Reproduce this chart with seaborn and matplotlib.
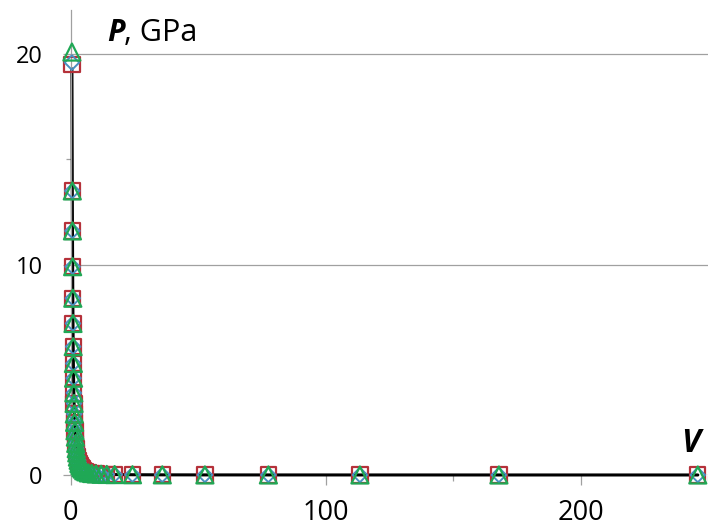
import numpy as np
import pandas as pd
import matplotlib
matplotlib.use('Agg')
import matplotlib.pyplot as plt
import seaborn as sns

# volume (shared) and pressure values for three model curves
V = [0.55, 0.70, 0.76, 0.83, 0.90, 0.97, 1.05, 1.12, 1.20, 1.30, 1.40, 1.50,
     1.60, 1.75, 1.90, 2.05, 2.25, 2.45, 2.70, 3.00, 3.30, 3.70, 4.10, 4.60,
     5.20, 6.00, 7.00, 8.30, 10.0, 12.0, 14.2, 17.3, 24.3, 36.0, 52.7, 77.6,
     113.5, 168.0, 246.0]
P_base = [19.3, 13.5, 11.6, 9.9, 8.4, 7.2, 6.1, 5.3, 4.6, 3.9, 3.4, 2.9,
          2.5, 2.1, 1.8, 1.5, 1.25, 1.05, 0.85, 0.70, 0.55, 0.45, 0.35, 0.28,
          0.20, 0.15, 0.10, 0.07, 0.05, 0.035, 0.026, 0.020, 0.012, 0.007,
          0.004, 0.0025, 0.0015, 0.0009, 0.0005]
P_sq = [19.5] + P_base[1:]
P_dia = [19.6] + P_base[1:]
P_tri = [20.1] + P_base[1:]

df = pd.DataFrame({'V': V, 'P': P_base, 'P_sq': P_sq, 'P_dia': P_dia, 'P_tri': P_tri})

sns.set_style('white')
plt.rcParams['font.family'] = ['Open Sans', 'DejaVu Sans']
plt.rcParams['text.color'] = 'black'

fig = plt.figure(figsize=(7.08, 5.30), dpi=100)
ax = fig.add_axes([0.0996, 0.1038, 0.9004, 0.8774])

sns.lineplot(data=df, x='V', y='P', color='black', linewidth=2.2, ax=ax,
             sort=False, clip_on=False, zorder=2)
sns.scatterplot(data=df, x='V', y='P_sq', marker='s', s=120, facecolor='none',
                edgecolor='#B5313A', linewidth=1.6, ax=ax, clip_on=False, zorder=3)
sns.scatterplot(data=df, x='V', y='P_dia', marker='D', s=55, facecolor='none',
                edgecolor='#4A8FC0', linewidth=1.4, ax=ax, clip_on=False, zorder=4)
sns.scatterplot(data=df, x='V', y='P_tri', marker='^', s=150, facecolor='none',
                edgecolor='#1FA855', linewidth=1.6, ax=ax, clip_on=False, zorder=5)

ax.set_xlim(0, 248)
ax.set_ylim(0, 22.1)
ax.set_xticks([0, 100, 200])
ax.set_xticks([50, 150, 250], minor=True)
ax.set_yticks([0, 10, 20])
ax.set_yticks([5, 15], minor=True)
ax.grid(axis='y', which='major', color='#a0a0a0', linewidth=0.9)
for s in ['top', 'right', 'bottom']:
    ax.spines[s].set_visible(False)
ax.spines['left'].set_color('#a0a0a0')
ax.spines['left'].set_linewidth(0.9)
ax.tick_params(axis='both', which='major', colors='#a0a0a0',
               labelcolor='black', direction='out', width=0.9)
ax.tick_params(axis='x', which='major', length=7.2, pad=10, labelsize=19.5, bottom=True)
ax.tick_params(axis='y', which='major', length=5.8, pad=14.4, labelsize=17, left=True)
ax.tick_params(axis='x', which='minor', length=4.3, bottom=True, colors='#a0a0a0', width=0.9)
ax.tick_params(axis='y', which='minor', length=3.6, left=True, colors='#a0a0a0', width=0.9)
ax.set_xlabel('')
ax.set_ylabel('')

# axis captions placed inside the plot area, as in the original
tP = ax.text(14.2, 21.0, 'P', fontsize=22, fontweight='bold', fontstyle='italic',
             ha='left', va='center', color='black')
ax.annotate(', GPa', xy=(1, 0), xycoords=tP, va='bottom', ha='left', fontsize=22,
            color='black')
ax.text(239.5, 1.5, 'V', fontsize=23, fontweight='bold', fontstyle='italic',
        ha='left', va='center', color='black')

fig.savefig('out.png', dpi=100)
